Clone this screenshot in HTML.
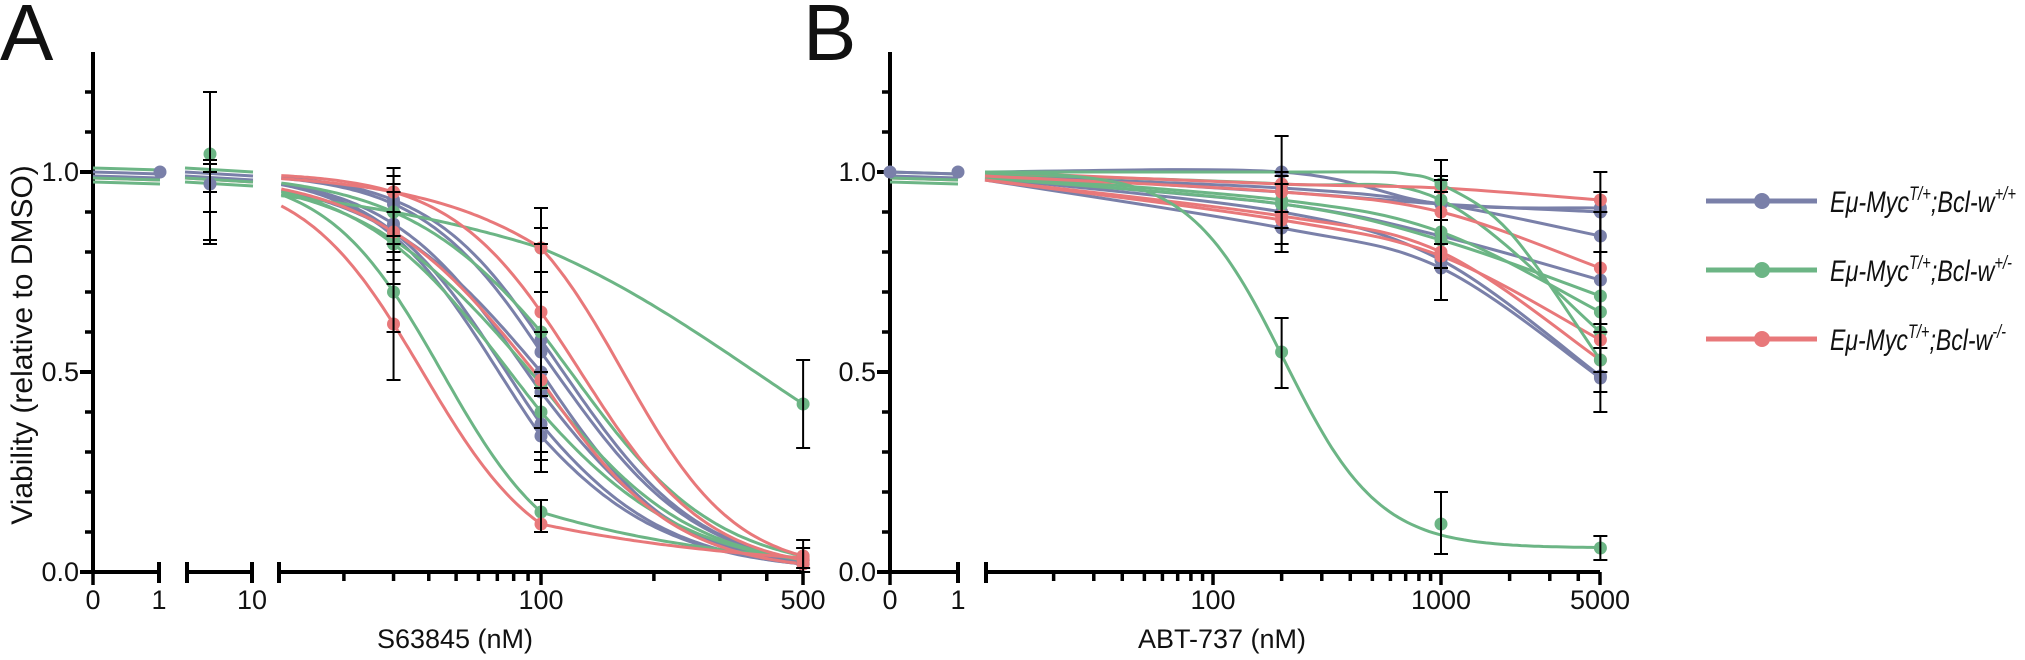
<!DOCTYPE html>
<html><head><meta charset="utf-8"><style>
html,body{margin:0;padding:0;background:#fff;}
svg{display:block;}
text{font-family:"Liberation Sans",Arial,sans-serif;fill:#111;}
</style></head><body>
<svg id="s" width="2025" height="660" viewBox="0 0 2025 660" xmlns="http://www.w3.org/2000/svg">
<text x="0" y="60" font-size="80">A</text>
<text x="803" y="60" font-size="80">B</text>
<text transform="translate(32,345) rotate(-90)" font-size="30" text-anchor="middle">Viability (relative to DMSO)</text>
<text x="455" y="648" font-size="27" text-anchor="middle">S63845 (nM)</text>
<text x="1222" y="648" font-size="27" text-anchor="middle">ABT-737 (nM)</text>
<g font-size="30" font-style="italic">
<text x="1830" y="212" textLength="186" lengthAdjust="spacingAndGlyphs">Eμ-Myc<tspan font-size="19" dy="-12">T/+</tspan><tspan dy="12">;Bcl-w</tspan><tspan font-size="19" dy="-12">+/+</tspan></text>
<text x="1830" y="281" textLength="182" lengthAdjust="spacingAndGlyphs">Eμ-Myc<tspan font-size="19" dy="-12">T/+</tspan><tspan dy="12">;Bcl-w</tspan><tspan font-size="19" dy="-12">+/-</tspan></text>
<text x="1830" y="350" textLength="176" lengthAdjust="spacingAndGlyphs">Eμ-Myc<tspan font-size="19" dy="-12">T/+</tspan><tspan dy="12">;Bcl-w</tspan><tspan font-size="19" dy="-12">-/-</tspan></text>
</g>
<g id="g"></g>
</svg>
<script>
var B='#7a80a9',G='#6cb585',R='#e8787a';
var out='';
function yv(v){return 572-400*v;}
function L(x1,y1,x2,y2,c,w){out+='<line x1="'+x1+'" y1="'+y1+'" x2="'+x2+'" y2="'+y2+'" stroke="'+(c||'#000')+'" stroke-width="'+(w||4)+'"/>';}
function T(x,y,s,a){out+='<text x="'+x+'" y="'+y+'" font-size="27" text-anchor="'+(a||'middle')+'">'+s+'</text>';}
function xA(x){var l=Math.log10(x/100);return 541+(l<0?282:375)*l;}
function xB(x){return 1213+228*Math.log10(x/100);}
[[B,206],[G,275],[R,344]].forEach(function(l){L(1706,l[1]-5,1817,l[1]-5,l[0],5);out+='<circle cx="1762" cy="'+(l[1]-5)+'" r="8" fill="'+l[0]+'"/>';});
function yaxis(ax,lx){
 L(ax,52,ax,574);
 for(var i=1;i<=12;i++){var v=i/10;if(i==5||i==10)continue;L(ax-8,yv(v),ax,yv(v),'#000',3.5);}
 [0,0.5,1].forEach(function(v){L(ax-13,yv(v),ax,yv(v));T(lx,yv(v)+9,v.toFixed(1),'end');});
}
yaxis(93,79);yaxis(890,876);
function cap(x){L(x,562,x,583,'#000',4);}
function tk(x,len){L(x,572,x,572+len,'#000',3.5);}
L(91,572,159,572);cap(159);tk(93,13);
L(187,572,252,572);cap(187);cap(252);
L(279,572,803,572);cap(279);
[20,30,40,50,60,70,80,90,200,300,400].forEach(function(v){tk(xA(v),9);});
tk(541,13);tk(803,13);
T(93,609,'0');T(159,609,'1');T(252,609,'10');T(541,609,'100');T(803,609,'500');
L(888,572,958,572);cap(958);tk(890,13);
L(986,572,1600,572);cap(986);
[20,30,40,50,60,70,80,90,200,300,400,500,600,700,800,900,2000,3000,4000].forEach(function(v){tk(xB(v),9);});
tk(1213,13);tk(1441,13);tk(1600,13);
T(890,609,'0');T(958,609,'1');T(1213,609,'100');T(1441,609,'1000');T(1600,609,'5000');
function f(x,ic,h,b){return b+(1-b)/(1+Math.pow(x/ic,h));}
function curve(xf,x0,x1,fn,c){var d='';for(var i=0;i<=140;i++){var lx=Math.log10(x0)+(Math.log10(x1)-Math.log10(x0))*i/140;var x=Math.pow(10,lx);d+=(i?'L':'M')+xf(x).toFixed(1)+' '+yv(fn(x)).toFixed(1);}out+='<path d="'+d+'" fill="none" stroke="'+c+'" stroke-width="3"/>';}
var A=[[B,.92,.55,.03],[B,.85,.50,.02],[B,.85,.37,.02],[B,.84,.34,.02],[B,.93,.58,.03],[B,.87,.45,.025],
[G,.70,.15,.035],[G,.90,.81,.42],[G,.83,.47,.03],[G,.90,.60,.04],[G,.82,.40,.03],
[R,.62,.12,.035],[R,.95,.81,.04],[R,.95,.65,.03],[R,.85,.48,.02]];
var pts=[];
var fl=[[G,1.01],[G,0.975],[R,0.985],[B,1.0],[B,0.99],[G,0.985]];
fl.forEach(function(s){L(93,yv(s[1]),160,yv(s[1]-0.005),s[0],3);L(185,yv(s[1]),253,yv(s[1]-0.01),s[0],3);});
fl.forEach(function(s){L(890,yv(Math.min(s[1],1.0)),958,yv(Math.min(s[1],1)-0.005),s[0],3);});
function rr(v){return 1/v-1;}
A.forEach(function(a){
 var r30=rr(a[1]),r100=rr(a[2]),r500=rr(a[3]);
 var h1=Math.log(r100/r30)/Math.log(100/30),ic1=100*Math.pow(r100,-1/h1);
 var h2=Math.log(r500/r100)/Math.log(5),ic2=100*Math.pow(r100,-1/h2);
 curve(xA,12,500,function(x){return x<=100?f(x,ic1,h1,0):f(x,ic2,h2,0);},a[0]);
 pts.push([xA(30),a[1],a[0]],[xA(100),a[2],a[0]],[xA(500),a[3],a[0]]);});
function spline(xs,vs,c){var P=xs.map(function(x,i){return [xB(x),yv(vs[i])];});var d='M'+P[0][0]+' '+P[0][1];
 for(var i=0;i<P.length-1;i++){var p0=P[i-1]||P[i],p1=P[i],p2=P[i+1],p3=P[i+2]||P[i+1];
 var c1=[p1[0]+(p2[0]-p0[0])/6,p1[1]+(p2[1]-p0[1])/6],c2=[p2[0]-(p3[0]-p1[0])/6,p2[1]-(p3[1]-p1[1])/6];
 d+='C'+c1[0].toFixed(1)+' '+c1[1].toFixed(1)+' '+c2[0].toFixed(1)+' '+c2[1].toFixed(1)+' '+p2[0].toFixed(1)+' '+p2[1].toFixed(1);}
 out+='<path d="'+d+'" fill="none" stroke="'+c+'" stroke-width="3"/>';}
var Bc=[[B,[1,1,.92,.91]],[B,[.995,.95,.92,.90]],[B,[.985,.92,.84,.73]],[B,[.98,.86,.76,.485]],[B,[.99,.96,.92,.84]],[B,[.985,.90,.78,.49]],
[G,[.99,.93,.85,.65]],[G,[.985,.92,.83,.69]],[G,[.995,.97,.93,.60]],
[R,[1,.97,.96,.93]],[R,[.99,.95,.90,.76]],[R,[.98,.88,.79,.58]],[R,[.98,.89,.80,.53]]];
Bc.forEach(function(b){spline([10,200,1000,5000],b[1],b[0]);[200,1000,5000].forEach(function(x,i){pts.push([xB(x),b[1][i+1],b[0]]);});});
spline([10,100,200,500,700,1000,2000,5000],[1,1,1,1,.995,.97,.85,.53],G);
[[1000,.97],[5000,.53]].forEach(function(p){pts.push([xB(p[0]),p[1],G]);});
curve(xB,10,5000,function(x){return f(x,205,2.1,.06);},G);
[[200,.55],[1000,.12],[5000,.06]].forEach(function(p){pts.push([xB(p[0]),p[1],G]);});
pts.push([160,1.0,B],[210,0.97,B],[210,1.045,G],[890,1.0,B],[958,1.0,B]);
pts.forEach(function(p){out+='<circle cx="'+p[0].toFixed(1)+'" cy="'+yv(p[1]).toFixed(1)+'" r="6.5" fill="'+p[2]+'"/>';});
function eb(x,lo,hi){L(x,yv(lo),x,yv(hi),'#000',2);L(x-7,yv(lo),x+7,yv(lo),'#000',2);L(x-7,yv(hi),x+7,yv(hi),'#000',2);}
eb(210,0.82,1.2);eb(210,0.9,1.03);eb(210,0.83,1.0);eb(210,0.95,1.02);
var x30=xA(30),x100=xA(100),x500=xA(500);
eb(x30,0.48,0.75);eb(x30,0.8,1.01);eb(x30,0.75,0.99);eb(x30,0.72,0.9);eb(x30,0.78,0.95);eb(x30,0.84,0.97);eb(x30,0.6,0.82);
eb(x100,0.7,0.91);eb(x100,0.25,0.6);eb(x100,0.3,0.7);eb(x100,0.1,0.18);eb(x100,0.44,0.75);eb(x100,0.36,0.82);eb(x100,0.28,0.5);eb(x100,0.46,0.86);
eb(x500,0.31,0.53);eb(x500,0.0,0.08);eb(x500,0.01,0.06);
var b2=xB(200),b3=xB(1000),b5=xB(5000);
eb(b2,0.46,0.635);eb(b2,0.8,1.09);eb(b2,0.82,0.99);eb(b2,0.86,0.97);eb(b2,0.9,1.0);
eb(b3,0.045,0.2);eb(b3,0.68,1.03);eb(b3,0.76,0.98);eb(b3,0.82,0.95);eb(b3,0.88,0.99);
eb(b5,0.03,0.09);eb(b5,0.4,1.0);eb(b5,0.5,0.95);eb(b5,0.6,0.9);eb(b5,0.56,0.8);eb(b5,0.45,0.62);
document.getElementById('g').innerHTML=out;
</script>
</body></html>
